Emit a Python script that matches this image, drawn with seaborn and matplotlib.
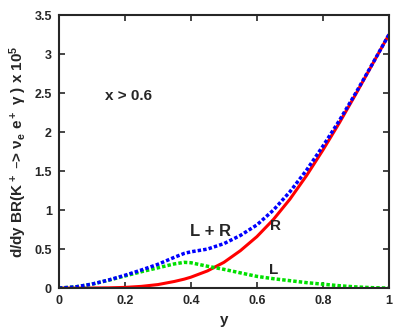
import numpy as np
import pandas as pd
import matplotlib
matplotlib.use("Agg")
import matplotlib.pyplot as plt
import seaborn as sns

y_vals = [0.0, 0.05, 0.1, 0.15, 0.2, 0.25, 0.3, 0.35, 0.38, 0.4, 0.45, 0.5, 0.55,
          0.6, 0.65, 0.7, 0.75, 0.8, 0.85, 0.9, 0.95, 1.0]
L_vals = [0.0, 0.015, 0.05, 0.10, 0.155, 0.21, 0.26, 0.31, 0.33, 0.325, 0.28, 0.24, 0.195,
          0.15, 0.12, 0.095, 0.07, 0.05, 0.03, 0.015, 0.005, 0.0]
R_vals = [0.0, 0.0, 0.001, 0.003, 0.009, 0.022, 0.045, 0.085, 0.115, 0.14, 0.22, 0.33, 0.48,
          0.66, 0.88, 1.14, 1.44, 1.77, 2.12, 2.49, 2.87, 3.25]
LR_vals = [l + r for l, r in zip(L_vals, R_vals)]

df = pd.DataFrame({"y": y_vals, "L": L_vals, "R": R_vals, "LR": LR_vals})

sns.set_style("ticks")
plt.rcParams['font.family'] = ['Liberation Sans', 'DejaVu Sans']
plt.rcParams['font.weight'] = 'bold'
plt.rcParams['mathtext.default'] = 'regular'

fig = plt.figure(figsize=(4.09, 3.27), dpi=100)
ax = fig.add_axes([0.144, 0.119, 0.807, 0.835])

sns.lineplot(data=df, x="y", y="R", ax=ax, color="#ff0000", lw=2.2)
sns.lineplot(data=df, x="y", y="L", ax=ax, color="#00e000", lw=2.5, linestyle=(0, (1, 0.6)))
sns.lineplot(data=df, x="y", y="LR", ax=ax, color="#0000ff", lw=2.5, linestyle=(0, (1, 0.6)))

ax.set_xlim(0, 1)
ax.set_ylim(0, 3.5)
ax.set_xticks([0, 0.2, 0.4, 0.6, 0.8, 1])
ax.set_xticklabels(["0", "0.2", "0.4", "0.6", "0.8", "1"])
ax.set_yticks([0, 0.5, 1, 1.5, 2, 2.5, 3, 3.5])
ax.set_yticklabels(["0", "0.5", "1", "1.5", "2", "2.5", "3", "3.5"])
ax.tick_params(direction="in", top=True, right=True, length=4, width=1.2, labelsize=9, pad=5)
for s in ax.spines.values():
    s.set_linewidth(1.5)
    s.set_visible(True)

ax.set_xlabel("y", fontsize=11, fontweight="bold")
ax.set_ylabel(r"d/dy BR(K$^+$ –> $\nu_e$ e$^+$ $\gamma$ ) x 10$^5$", fontsize=11, fontweight="bold")

ax.text(0.21, 2.46, "x > 0.6", fontsize=11, fontweight="bold", ha="center", va="center")
ax.text(0.46, 0.72, "L + R", fontsize=12, fontweight="bold", ha="center", va="center")
ax.text(0.655, 0.80, "R", fontsize=11, fontweight="bold", ha="center", va="center")
ax.text(0.65, 0.23, "L", fontsize=11, fontweight="bold", ha="center", va="center")

fig.savefig("out.png", dpi=100)
